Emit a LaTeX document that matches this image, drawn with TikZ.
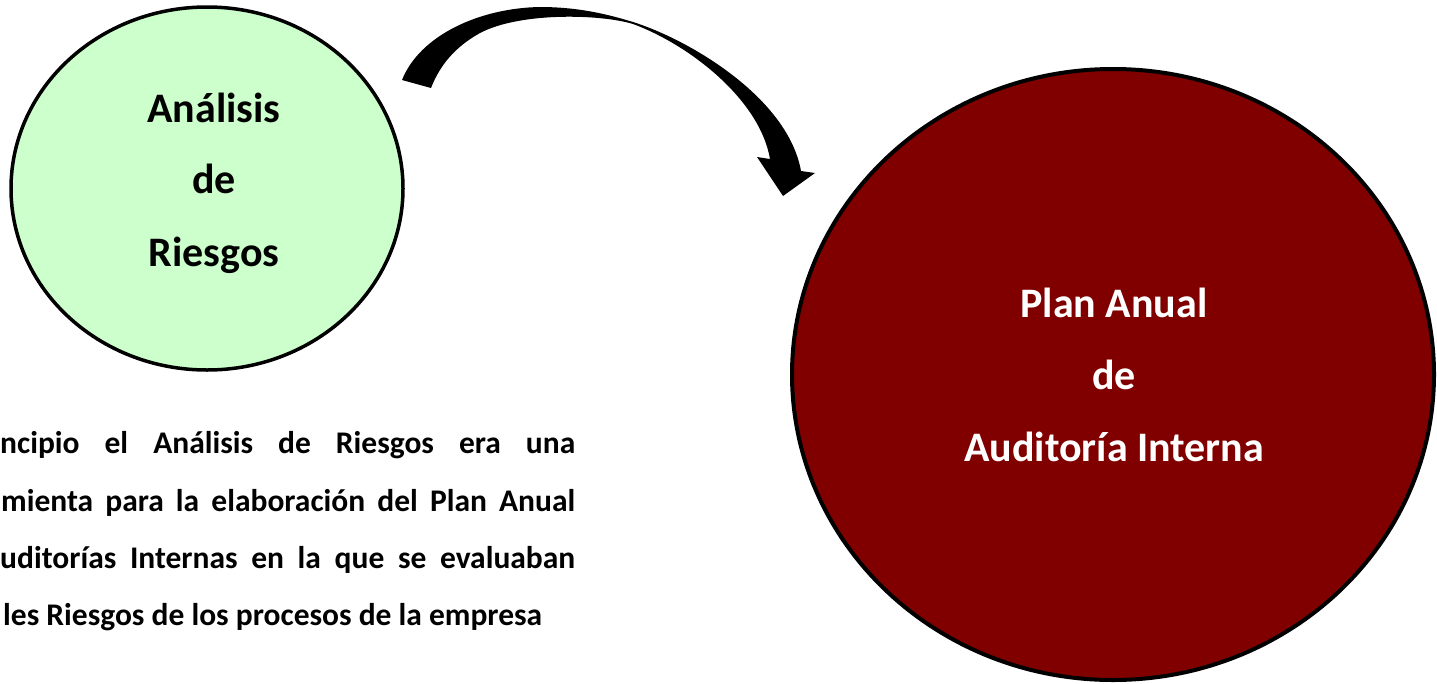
\documentclass[tikz,border=0pt]{standalone}
\usepackage{fontspec}
\setmainfont{Carlito}
\usetikzlibrary{shapes.geometric}
\definecolor{softgreen}{HTML}{CCFFCC}
\definecolor{darkmaroon}{HTML}{800000}
\tikzset{
  bubble/.style={ellipse, draw=black, inner sep=0pt, outer sep=0pt},
  bigword/.style={inner sep=0pt, anchor=base, font=\fontsize{42}{48}\selectfont\bfseries},
  bodyline/.style={inner sep=0pt, anchor=base west, font=\fontsize{31.5}{36}\selectfont\bfseries}
}
\begin{document}
\begin{tikzpicture}[x=1pt, y=-1pt]
\useasboundingbox (0,0) rectangle (1437,683);
% circles
\node[bubble, fill=softgreen, line width=3.5pt, minimum width=392pt, minimum height=363pt] (riesgos) at (207,188.5) {};
\node[bubble, fill=darkmaroon, line width=4pt, minimum width=642pt, minimum height=611pt] (plan) at (1113,374.5) {};
% circle texts
\node[bigword] (r1) at (214,122) {Análisis};
\node[bigword] (r2) at (214,193) {de};
\node[bigword] (r3) at (214,266) {Riesgos};
\node[bigword, text=white] (p1) at (1114,317) {Plan Anual};
\node[bigword, text=white] (p2) at (1114,389) {de};
\node[bigword, text=white] (p3) at (1114,461) {Auditoría Interna};
% curved block arrow
\fill[black] (402,80) .. controls (420,35) and (480,8) .. (540,7)
  .. controls (580,7) and (610,15) .. (633,22)
  .. controls (690,40) and (788,98) .. (801,171)
  -- (815,173) -- (783,196) -- (757,157) -- (770,159)
  .. controls (760,100) and (690,45) .. (633,24)
  .. controls (600,14) and (520,12) .. (480,33)
  .. controls (455,47) and (440,65) .. (431,88) -- cycle;
% paragraph
\node[bodyline] (t1) at (0,453) {\makebox[575pt][s]{ncipio el Análisis de Riesgos era una}};
\node[bodyline] (t2) at (1,511) {\makebox[574pt][s]{mienta para la elaboración del Plan Anual}};
\node[bodyline] (t3) at (0,568) {\makebox[575pt][s]{uditorías Internas en la que se evaluaban}};
\node[bodyline] (t4) at (3,625) {les Riesgos de los procesos de la empresa};
\end{tikzpicture}
\end{document}
